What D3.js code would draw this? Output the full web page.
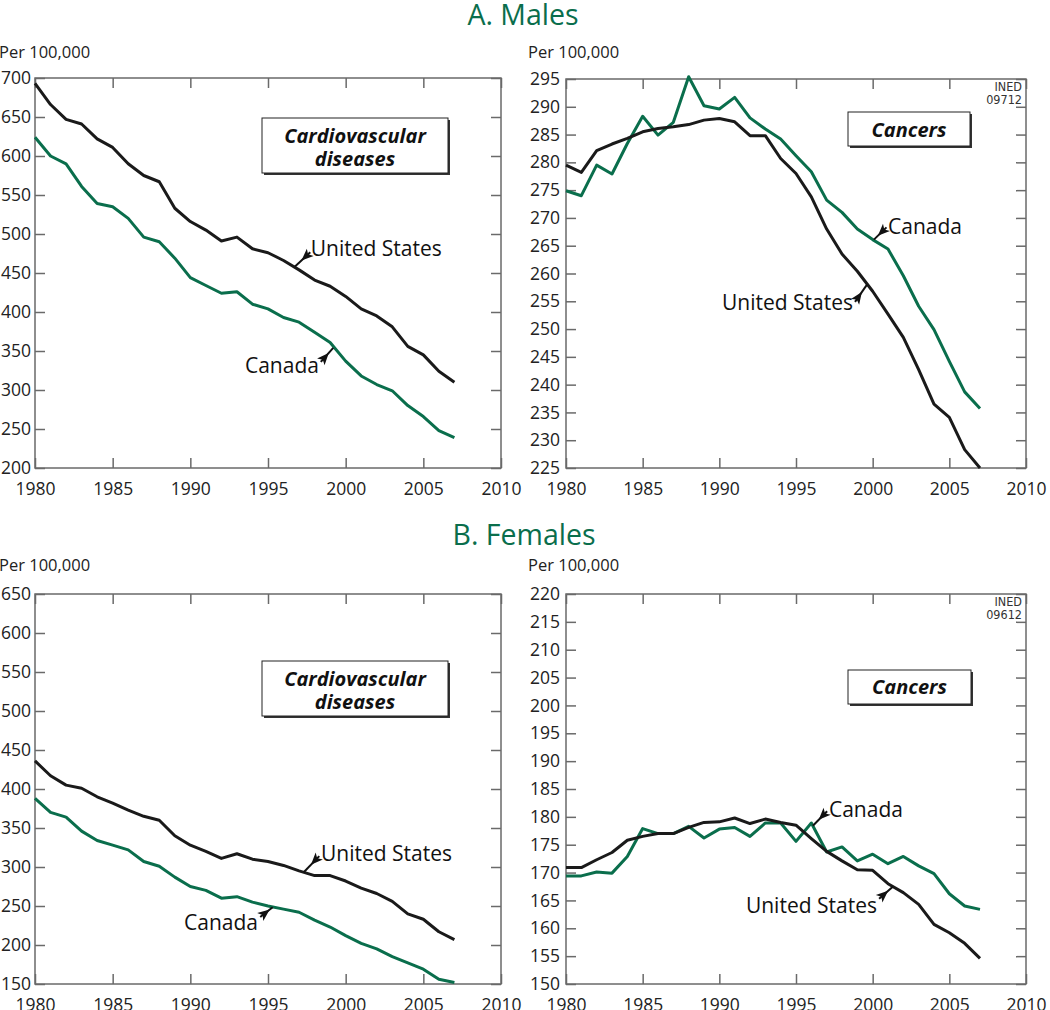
<!DOCTYPE html>
<html>
<head>
<meta charset="utf-8">
<script src="https://cdn.jsdelivr.net/npm/d3@7"></script>
<style>
  html, body { margin: 0; padding: 0; background: #fff; }
  svg { display: block; font-family: "Open Sans", "Noto Sans", sans-serif; }
</style>
</head>
<body>
<svg id="chart" width="1050" height="1010"></svg>
<script>
// ---------- DATA ----------
const years = [1980,1981,1982,1983,1984,1985,1986,1987,1988,1989,1990,1991,1992,1993,
               1994,1995,1996,1997,1998,1999,2000,2001,2002,2003,2004,2005,2006,2007];
const xTickValues = [1980,1985,1990,1995,2000,2005,2010];

// A. Males - cardiovascular diseases
const maleCvdUS     = [693,666,647,641,622,611,590,575,567,533,516,505,491,496,481,476,466,454,441,433,420,404,395,381,356,345,324,310];
const maleCvdCanada = [624,600,590,561,539,535,520,496,490,469,444,434,424,426,410,404,393,387,374,361,337,318,307,299,280,266,248,239];
// A. Males - cancers
const maleCancerUS     = [279.5,278.2,282.1,283.3,284.3,285.5,286.1,286.4,286.8,287.6,287.9,287.3,284.8,284.8,280.7,278.0,273.8,268.0,263.5,260.4,256.8,252.7,248.5,242.7,236.5,234.1,228.3,225.0];
const maleCancerCanada = [274.9,274.0,279.5,277.9,283.4,288.3,284.9,287.2,295.4,290.2,289.6,291.7,288.0,286.0,284.2,281.2,278.3,273.2,271.0,268.0,266.1,264.4,259.6,254.1,249.9,244.2,238.7,235.7];
// B. Females - cardiovascular diseases
const femaleCvdUS     = [436,417,405,401,390,382,373,365,360,340,328,320,311,317,310,307,302,295,289,289,282,273,266,256,240,233,217,207];
const femaleCvdCanada = [388,370,364,346,334,328,322,307,301,287,275,270,260,262,255,250,246,242,232,223,212,202,195,185,177,169,156,152];
// B. Females - cancers
const femaleCancerUS     = [170.9,170.9,172.3,173.6,175.8,176.5,177.0,177.0,178.1,179.0,179.1,179.8,178.8,179.6,179.0,178.5,176.1,173.8,172.1,170.5,170.4,168.0,166.4,164.3,160.7,159.2,157.3,154.6];
const femaleCancerCanada = [169.4,169.4,170.1,169.9,172.9,177.9,177.0,177.0,178.3,176.2,177.8,178.1,176.5,178.9,178.9,175.6,178.9,173.7,174.6,172.1,173.3,171.6,172.9,171.2,169.8,166.2,164.0,163.4];

const yTicksMaleCvd     = [200,250,300,350,400,450,500,550,600,650,700];
const yTicksMaleCancer  = [225,230,235,240,245,250,255,260,265,270,275,280,285,290,295];
const yTicksFemaleCvd   = [150,200,250,300,350,400,450,500,550,600,650];
const yTicksFemaleCancer= [150,155,160,165,170,175,180,185,190,195,200,205,210,215,220];

const seriesNames = ["United States", "Canada"];
const sectionTitles = ["A. Males", "B. Females"];
const unitLabel = "Per 100,000";

// ---------- STYLE ----------
const GREEN = "#0a6e4c";
const BLACK = "#1a1a1a";
const FRAME = "#6a6a6a";

const svg = d3.select("#chart");

// Section titles
svg.append("text").attr("x", 523).attr("y", 25).attr("text-anchor", "middle")
  .attr("font-size", 28.5).attr("fill", GREEN).text(sectionTitles[0]);
svg.append("text").attr("x", 524).attr("y", 545).attr("text-anchor", "middle")
  .attr("font-size", 28.5).attr("fill", GREEN).text(sectionTitles[1]);

const panels = [
  { x0: 35, x1: 501, y0: 78, y1: 468, domain: [200, 700], ticks: yTicksMaleCvd,
    us: maleCvdUS, ca: maleCvdCanada, unitX: -1, unitY: 58, pad: 4,
    box: { lines: ["Cardiovascular", "diseases"], x0: 262, x1: 448, y0: 118, y1: 173, base: [143, 166] },
    ann: [
      { text: seriesNames[0], anchor: "start", at: [1997.75, 472], from: [1997.72, 476.5], to: [1996.72, 458] },
      { text: seriesNames[1], anchor: "end", at: [1998.28, 321.8], from: [1998.4, 336], to: [1999.2, 354] }
    ] },
  { x0: 566, x1: 1026, y0: 79, y1: 468, domain: [225, 295], ticks: yTicksMaleCancer,
    us: maleCancerUS, ca: maleCancerCanada, unitX: 528, unitY: 58, pad: 6, ined: ["INED", "09712"],
    box: { lines: ["Cancers"], x0: 848, x1: 970, y0: 112, y1: 146, base: [137] },
    ann: [
      { text: seriesNames[1], anchor: "start", at: [2001.0, 267.1], from: [2000.9, 268.3], to: [2000.08, 266.1] },
      { text: seriesNames[0], anchor: "end", at: [1998.72, 253.4], from: [1998.85, 254.9], to: [1999.63, 258.0] }
    ] },
  { x0: 35, x1: 501, y0: 594, y1: 984, domain: [150, 650], ticks: yTicksFemaleCvd,
    us: femaleCvdUS, ca: femaleCvdCanada, unitX: -1, unitY: 571, pad: 4,
    box: { lines: ["Cardiovascular", "diseases"], x0: 262, x1: 448, y0: 661, y1: 716, base: [686, 709] },
    ann: [
      { text: seriesNames[0], anchor: "start", at: [1998.41, 307.7], from: [1998.3, 314], to: [1997.3, 293.2] },
      { text: seriesNames[1], anchor: "end", at: [1994.36, 219.2], from: [1994.5, 236], to: [1995.3, 248.3] }
    ] },
  { x0: 566, x1: 1026, y0: 594, y1: 984, domain: [150, 220], ticks: yTicksFemaleCancer,
    us: femaleCancerUS, ca: femaleCancerCanada, unitX: 528, unitY: 571, pad: 6, ined: ["INED", "09612"],
    box: { lines: ["Cancers"], x0: 848, x1: 971, y0: 670, y1: 704, base: [694] },
    ann: [
      { text: seriesNames[1], anchor: "start", at: [1997.15, 180.05], from: [1997.03, 181.0], to: [1996.1, 178.4] },
      { text: seriesNames[0], anchor: "end", at: [2000.28, 162.8], from: [2000.42, 165.3], to: [2001.33, 167.5] }
    ] }
];

panels.forEach(p => {
  const x = d3.scaleLinear().domain([1980, 2010]).range([p.x0, p.x1]);
  const y = d3.scaleLinear().domain(p.domain).range([p.y1, p.y0]);
  const g = svg.append("g");

  // unit label
  g.append("text").attr("x", p.unitX).attr("y", p.unitY).attr("font-size", 16.5)
    .attr("fill", "#222").text(unitLabel);

  // axes (inward ticks on all four sides)
  const styleAxis = sel => {
    sel.select(".domain").remove();
    sel.selectAll(".tick line").attr("stroke", FRAME).attr("stroke-width", 1.5);
    sel.selectAll("text").attr("fill", "#222").attr("font-size", 17.5)
      .attr("font-family", "'Open Sans', 'Noto Sans', sans-serif");
  };
  g.append("g").attr("transform", `translate(0,${p.y1})`)
    .call(d3.axisBottom(x).tickValues(xTickValues).tickFormat(d3.format("d"))
      .tickSizeInner(-10).tickSizeOuter(0).tickPadding(14.5))
    .call(styleAxis);
  g.append("g").attr("transform", `translate(0,${p.y0})`)
    .call(d3.axisTop(x).tickValues(xTickValues).tickFormat("").tickSizeInner(-10).tickSizeOuter(0))
    .call(styleAxis);
  g.append("g").attr("transform", `translate(${p.x0},0)`)
    .call(d3.axisLeft(y).tickValues(p.ticks).tickFormat(d3.format("d"))
      .tickSizeInner(-10).tickSizeOuter(0).tickPadding(p.pad))
    .call(styleAxis);
  g.append("g").attr("transform", `translate(${p.x1},0)`)
    .call(d3.axisRight(y).tickValues(p.ticks).tickFormat("").tickSizeInner(-10).tickSizeOuter(0))
    .call(styleAxis);

  // frame
  g.append("rect").attr("x", p.x0).attr("y", p.y0)
    .attr("width", p.x1 - p.x0).attr("height", p.y1 - p.y0)
    .attr("fill", "none").attr("stroke", FRAME).attr("stroke-width", 1.5);

  // INED code
  if (p.ined) {
    const t = g.append("text").attr("text-anchor", "end").attr("font-size", 12.5)
      .attr("font-family", "'DejaVu Sans Condensed', 'Liberation Sans Narrow', sans-serif")
      .attr("fill", "#333");
    t.append("tspan").attr("x", p.x1 - 4).attr("y", p.y0 + 12).text(p.ined[0]);
    t.append("tspan").attr("x", p.x1 - 4).attr("y", p.y0 + 25).text(p.ined[1]);
  }

  // lines
  const line = arr => d3.line().x((d, i) => x(years[i])).y(d => y(d))(arr);
  g.append("path").attr("d", line(p.ca)).attr("fill", "none").attr("stroke", GREEN)
    .attr("stroke-width", 3).attr("stroke-linejoin", "round");
  g.append("path").attr("d", line(p.us)).attr("fill", "none").attr("stroke", BLACK)
    .attr("stroke-width", 3).attr("stroke-linejoin", "round");

  // label box with shadow
  const b = p.box;
  g.append("rect").attr("x", b.x0 + 2).attr("y", b.y0 + 2)
    .attr("width", b.x1 - b.x0).attr("height", b.y1 - b.y0).attr("fill", "#333");
  g.append("rect").attr("x", b.x0).attr("y", b.y0)
    .attr("width", b.x1 - b.x0).attr("height", b.y1 - b.y0)
    .attr("fill", "#fff").attr("stroke", "#222").attr("stroke-width", 1);
  b.lines.forEach((ln, i) => {
    g.append("text").attr("x", (b.x0 + b.x1) / 2).attr("y", b.base[i])
      .attr("text-anchor", "middle").attr("font-size", 20)
      .attr("font-weight", "bold").attr("font-style", "italic").attr("fill", "#111")
      .text(ln);
  });

  // annotations with arrows
  p.ann.forEach(a => {
    g.append("text").attr("x", x(a.at[0])).attr("y", y(a.at[1]))
      .attr("text-anchor", a.anchor).attr("font-size", 21).attr("fill", "#111").text(a.text);
    const fx = x(a.from[0]), fy = y(a.from[1]);
    const tx = x(a.to[0]), ty = y(a.to[1]);
    g.append("line").attr("x1", fx).attr("y1", fy).attr("x2", tx).attr("y2", ty)
      .attr("stroke", "#111").attr("stroke-width", 2);
    const dx = tx - fx, dy = ty - fy, L = Math.hypot(dx, dy);
    const ux = dx / L, uy = dy / L, nx = -uy, ny = ux;
    const headLen = 12, half = 5;
    const tipX = fx + ux * headLen, tipY = fy + uy * headLen;
    g.append("path")
      .attr("d", `M${tipX},${tipY}L${fx + nx * half},${fy + ny * half}L${fx + ux * 3},${fy + uy * 3}L${fx - nx * half},${fy - ny * half}Z`)
      .attr("fill", "#111");
  });
});
</script>
</body>
</html>
